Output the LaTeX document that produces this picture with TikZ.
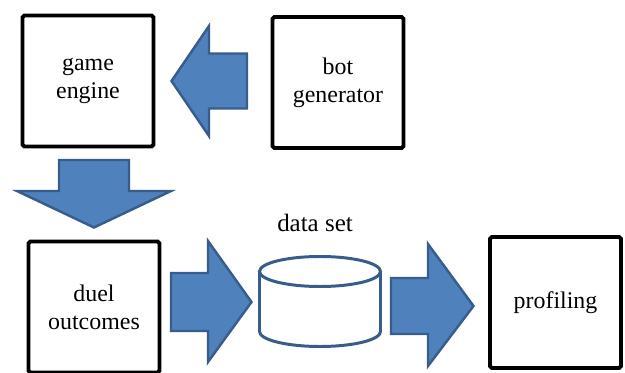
\documentclass[tikz,border=0pt]{standalone}
\usepackage{fontspec}
\setmainfont{LiberationSerif}[Extension=.ttf, UprightFont=*-Regular]
\usetikzlibrary{positioning}
\tikzset{font=\rmfamily\fontsize{13.6}{15.9}\selectfont}

\definecolor{arrowfill}{HTML}{4F81BD}
\definecolor{arrowline}{HTML}{385D8A}

\begin{document}
\begin{tikzpicture}[x=0.02cm, y=0.02cm,
	box/.style={draw, line width=2.2pt, rounded corners=1pt, align=center,
		minimum width=2.62cm, minimum height=2.62cm, inner sep=1pt},
	blockarrow/.style={fill=arrowfill, draw=arrowline, line width=1.4pt, line join=miter},
	dbline/.style={draw=arrowline, line width=1.7pt}]
	\useasboundingbox (0,0) rectangle (625,372);
	\clip (0,0) rectangle (625,372);

	% boxes
	\node[box] (engine) at (88,291) {game\\engine};
	\node[box] (botgen) at (338,289.5) {bot\\generator};
	\node[box] (duel) at (94,65) {duel\\outcomes};
	\node[box] (prof) at (555.5,69.5) {profiling};

	% data set
	\draw[dbline, fill=white] (259.5,100.5) -- (259.5,40.5)
		arc[start angle=180, end angle=360, x radius=60.5, y radius=15]
		-- (380.5,100.5);
	\draw[dbline] (320,100.5) ellipse [x radius=60.5, y radius=15];
	\node[anchor=base, inner sep=0pt, font=\rmfamily\fontsize{14.2}{16}\selectfont] (dslabel) at (315,140) {data set};

	% block arrows
	\draw[blockarrow] (247,318.5) -- (209,318.5) -- (209,346) -- (171.5,291)
		-- (209,236) -- (209,263.5) -- (247,263.5) -- cycle;
	\draw[blockarrow] (59,212) -- (129,212) -- (129,181) -- (171,181)
		-- (94,144.5) -- (17,181) -- (59,181) -- cycle;
	\draw[blockarrow] (171,99) -- (208,99) -- (208,131) -- (251.5,70)
		-- (208,10) -- (208,41) -- (171,41) -- cycle;
	\draw[blockarrow] (391,94) -- (428,94) -- (428,128) -- (473.5,66)
		-- (428,6) -- (428,38) -- (391,38) -- cycle;
\end{tikzpicture}
\end{document}
